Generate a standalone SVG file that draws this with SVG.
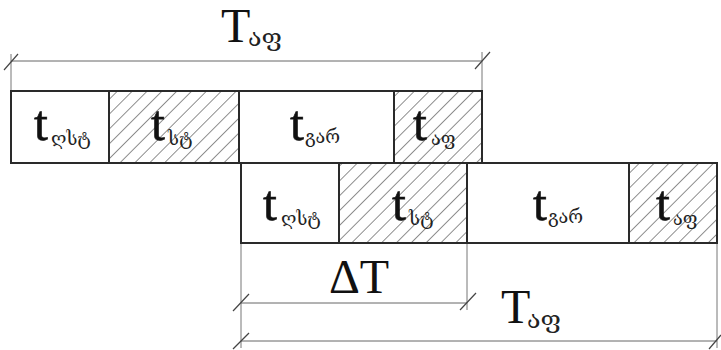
<svg xmlns="http://www.w3.org/2000/svg" width="721" height="350" viewBox="0 0 721 350">
<style>
.box{fill:#fff;stroke:#2a2a2a;stroke-width:2}
.hat{fill:url(#hatch);stroke:#2a2a2a;stroke-width:2}
.dim{stroke:#666;stroke-width:1;fill:none}
.ext{stroke:#777;stroke-width:1;fill:none}
.tk{stroke:#444;stroke-width:1.2;fill:none}
.big{font-family:"Liberation Serif",serif;font-size:50px;fill:#111;stroke:#111;stroke-width:0.6}
.sub{font-family:"DejaVu Serif","DejaVu Sans",serif;font-size:18px;fill:#222}
.T{font-family:"Liberation Serif",serif;font-size:48px;fill:#111}
.Tsub{font-family:"DejaVu Serif","DejaVu Sans",serif;font-size:25px;fill:#222}
</style>
<defs>
<pattern id="hatch" patternUnits="userSpaceOnUse" width="10.5" height="10.5" patternTransform="rotate(45)">
<rect width="10.5" height="10.5" fill="#fff"/>
<line x1="0" y1="0" x2="0" y2="10.5" stroke="#444" stroke-width="1.2"/>
</pattern>
</defs>
<g id="connectors">
<line class="dim" x1="11" y1="61" x2="482" y2="61"/>
<line class="ext" x1="11" y1="54" x2="11" y2="91"/>
<line class="ext" x1="482" y1="52" x2="482" y2="91"/>
<line class="tk" x1="4" y1="70" x2="18" y2="54"/>
<line class="tk" x1="475" y1="69" x2="490" y2="52"/>
<line class="dim" x1="241" y1="303" x2="467" y2="303"/>
<line class="dim" x1="241" y1="341" x2="717" y2="341"/>
<line class="ext" x1="241" y1="243" x2="241" y2="348"/>
<line class="ext" x1="467" y1="243" x2="467" y2="310"/>
<line class="ext" x1="717" y1="243" x2="717" y2="348"/>
<line class="tk" x1="233" y1="311" x2="249" y2="294"/>
<line class="tk" x1="460" y1="310" x2="476" y2="293"/>
<line class="tk" x1="233" y1="349" x2="249" y2="333"/>
<line class="tk" x1="709" y1="349" x2="721" y2="335"/>
</g>
<g id="label-T-top">
<text class="T" x="221" y="42">T</text>
<text class="Tsub" x="248" y="46">აფ</text>
</g>
<g id="label-dT">
<text class="T" x="329" y="293">ΔT</text>
</g>
<g id="label-T-bottom">
<text class="T" x="501" y="323">T</text>
<text class="Tsub" x="527" y="328">აფ</text>
</g>
<g id="row1-cell1">
<rect class="box" x="11" y="91" width="98" height="72"/>
<text class="big" x="34" y="140">t</text>
<text class="sub" x="51" y="145">ღსტ</text>
</g>
<g id="row1-cell2">
<rect class="hat" x="109" y="91" width="130" height="72"/>
<text class="big" x="151" y="140">t</text>
<text class="sub" x="168" y="145">სტ</text>
</g>
<g id="row1-cell3">
<rect class="box" x="239" y="91" width="155" height="72"/>
<text class="big" x="290" y="140">t</text>
<text class="sub" x="305" y="143">გარ</text>
</g>
<g id="row1-cell4">
<rect class="hat" x="394" y="91" width="88" height="72"/>
<text class="big" x="413" y="140">t</text>
<text class="sub" x="431" y="145">აფ</text>
</g>
<g id="row2-cell1">
<rect class="box" x="241" y="163" width="98" height="80"/>
<text class="big" x="263" y="220">t</text>
<text class="sub" x="281" y="225">ღსტ</text>
</g>
<g id="row2-cell2">
<rect class="hat" x="339" y="163" width="128" height="80"/>
<text class="big" x="392" y="220">t</text>
<text class="sub" x="409" y="225">სტ</text>
</g>
<g id="row2-cell3">
<rect class="box" x="467" y="163" width="162" height="80"/>
<text class="big" x="533" y="220">t</text>
<text class="sub" x="548" y="223">გარ</text>
</g>
<g id="row2-cell4">
<rect class="hat" x="629" y="163" width="88" height="80"/>
<text class="big" x="656" y="220">t</text>
<text class="sub" x="673" y="225">აფ</text>
</g>
</svg>
